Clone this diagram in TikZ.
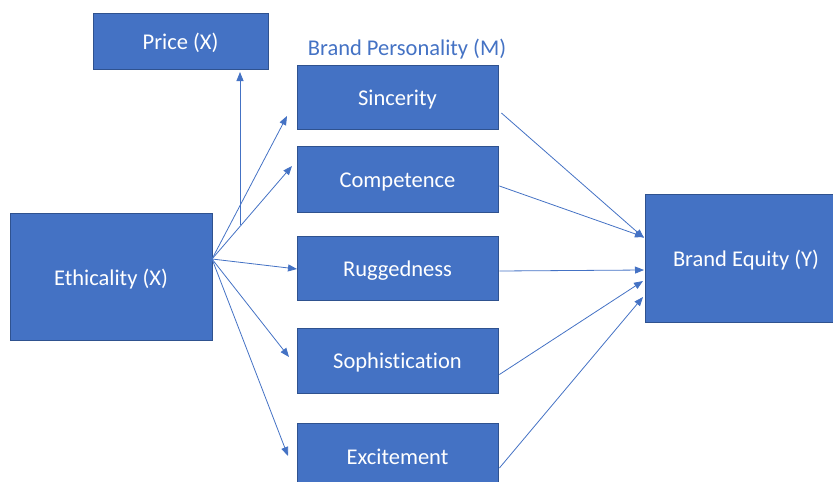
\documentclass[tikz,border=0pt]{standalone}
\usepackage{fontspec}
\setmainfont{Carlito}[Ligatures=NoCommon]
\usetikzlibrary{arrows.meta}
\definecolor{boxfill}{HTML}{4472C4}
\definecolor{boxedge}{HTML}{2F528F}
\definecolor{linkblue}{HTML}{4472C4}
\begin{document}
\begin{tikzpicture}[x=1pt,y=-1pt,
  block/.style={draw=boxedge,line width=0.8pt,fill=boxfill,text=white,
    font=\fontsize{22.5}{26}\selectfont,inner sep=0pt,anchor=center,
    text height=16.5pt,text depth=0pt},
  link/.style={draw=linkblue,line width=0.8pt,
    -{Triangle[length=9pt,width=7pt]}},
  caption/.style={text=linkblue,font=\fontsize{22.5}{26}\selectfont,inner sep=0pt,
    text height=16.5pt,text depth=0pt}]
  \useasboundingbox (0,0) rectangle (833,482);
  \begin{scope}
    \clip (0,0) rectangle (833,482);
    % boxes
    \node[block,minimum width=175,minimum height=56] (price) at (180.5,41) {Price (X)};
    \node[block,minimum width=201,minimum height=64] (sin) at (397.5,97) {Sincerity};
    \node[block,minimum width=201,minimum height=66] (com) at (397.5,179) {Competence};
    \node[block,minimum width=201,minimum height=64] (rug) at (397.5,268) {Ruggedness};
    \node[block,minimum width=201,minimum height=65] (sop) at (397.5,360.5) {Sophistication};
    \node[block,minimum width=201,minimum height=66] (exc) at (397.5,456) {Excitement};
    \node[block,minimum width=202,minimum height=127] (eth) at (111,277) {Ethicality (X)};
    \node[block,minimum width=202,minimum height=128] (beq) at (746,258) {Brand Equity (Y)};
    \node[caption] (bp) at (407,47) {Brand Personality (M)};

    % hub on the right side of Ethicality and arrow ends
    \coordinate (hub) at (212,259);
    \coordinate (pstart) at (240,225);
    \coordinate (ptip) at (240,72);
    \coordinate (e1) at (287,116);
    \coordinate (e2) at (292,166);
    \coordinate (e3) at (297,269);
    \coordinate (e4) at (289,357);
    \coordinate (e5) at (288,456);
    \coordinate (y1) at (644,238);
    \coordinate (y2) at (644,237);
    \coordinate (y3) at (644,270);
    \coordinate (y4) at (643,281);
    \coordinate (y5) at (643,297);

    % Ethicality to the personality dimensions and price
    \draw[link] (pstart) -- (ptip);
    \draw[link] (hub) -- (e1);
    \draw[link] (hub) -- (e2);
    \draw[link] (hub) -- (e3);
    \draw[link] (hub) -- (e4);
    \draw[link] (hub) -- (e5);

    % personality dimensions to Brand Equity
    \draw[link] ([xshift=3pt,yshift=-16pt]sin.east) -- (y1);
    \draw[link] ([xshift=1pt,yshift=-7pt]com.east) -- (y2);
    \draw[link] ([xshift=1pt,yshift=-3pt]rug.east) -- (y3);
    \draw[link] ([xshift=1pt,yshift=-14pt]sop.east) -- (y4);
    \draw[link] ([xshift=1pt,yshift=-12pt]exc.east) -- (y5);
  \end{scope}
\end{tikzpicture}
\end{document}
